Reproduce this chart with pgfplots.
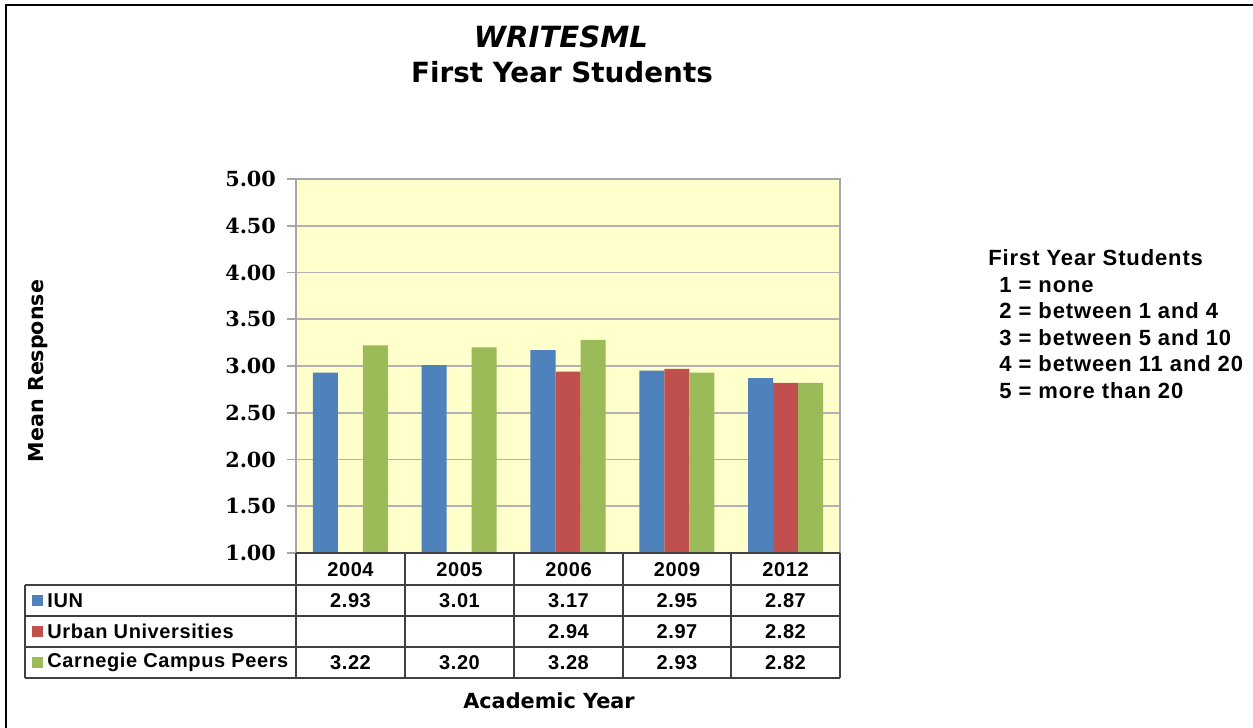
\documentclass[border=0pt]{standalone}
\usepackage{pgfplots}
\pgfplotsset{compat=1.18}
\usepackage{fontspec}
\setmainfont{Liberation Sans}
\newfontfamily\tabfont[LetterSpace=3]{Liberation Sans}
\newfontfamily\keyfont[LetterSpace=4]{Liberation Sans}
\newfontfamily\verd{DejaVu Sans}
\newfontfamily\serifb{DejaVu Serif}
\definecolor{cblue}{HTML}{4F81BD}
\definecolor{cred}{HTML}{C0504D}
\definecolor{cgreen}{HTML}{9BBB59}
\definecolor{bgy}{HTML}{FFFFCC}
\definecolor{tline}{HTML}{404040}
\begin{document}
\begin{tikzpicture}
\path[use as bounding box] (0,0) rectangle (626.5pt,-364pt);
\begin{axis}[
  at={(148pt,-276.5pt)}, anchor=south west,
  scale only axis, width=272pt, height=187pt,
  xmin=-0.5, xmax=4.5, ymin=1, ymax=5,
  ybar=0pt, bar width=12.5pt,
  xtick=\empty,
  ytick={1,1.5,2,2.5,3,3.5,4,4.5,5},
  ytick pos=left,
  yticklabel style={font=\serifb\bfseries\fontsize{10.4}{11}\selectfont, xshift=-2pt,
    /pgf/number format/fixed, /pgf/number format/fixed zerofill,
    /pgf/number format/precision=2, /pgf/number format/assume math mode=true},
  axis background/.style={fill=bgy},
  axis line style={draw=black!35, line width=0.8pt},
  ymajorgrids, grid style={draw=black!30, line width=0.8pt},
  tick style={draw=black!35, line width=0.8pt},
  tick align=outside, major tick length=4.5pt,
]
\addplot[fill=cblue, draw=none] coordinates {(0,2.93) (1,3.01) (2,3.17) (3,2.95) (4,2.87)};
\addplot[fill=cred, draw=none] coordinates {(2,2.94) (3,2.97) (4,2.82)};
\addplot[fill=cgreen, draw=none] coordinates {(0,3.22) (1,3.20) (2,3.28) (3,2.93) (4,2.82)};
\end{axis}
\begin{scope}[x=0.5pt,y=-0.5pt]
  % frame
  \draw[line width=1.2pt, black] (6,728) -- (6,5) -- (1253,5);
  % titles
  \node[anchor=base] at (561,47) {\verd\bfseries\itshape\fontsize{14.6}{16}\selectfont WRITESML};
  \node[anchor=base] at (562,82) {\verd\bfseries\fontsize{13.9}{16}\selectfont First Year Students};
  \node[rotate=90] at (38,371) {\verd\bfseries\fontsize{10.3}{12}\selectfont Mean Response};
  \node at (549,701) {\verd\bfseries\fontsize{10.4}{12}\selectfont Academic Year};
  % table
  \begin{scope}[line width=0.9pt]
    \draw[tline] (296,553) -- (840,553);
    \draw[tline] (25,585) -- (840,585);
    \draw[tline] (25,616) -- (840,616);
    \draw[tline] (25,647) -- (840,647);
    \draw[tline] (25,678) -- (840,678);
    \draw[tline] (25,585) -- (25,678);
    \foreach \xx in {296,405,514,623,731,840} {\draw[tline] (\xx,553) -- (\xx,678);}
  \end{scope}
  \fill[cblue] (32,595) rectangle (43,606);
  \fill[cred] (32,626) rectangle (43,637);
  \fill[cgreen] (32,657) rectangle (43,668);
  \begin{scope}[every node/.style={font=\tabfont\bfseries\fontsize{10}{11}\selectfont, inner sep=0pt}]
    \node[anchor=west] at (47,600.5) {IUN};
    \node[anchor=west] at (47,631.5) {Urban Universities};
    \node[anchor=west] at (47,662.5) {Carnegie Campus Peers};
    \foreach \cx/\yr/\a/\b/\c in {350.5/2004/2.93//3.22, 459.5/2005/3.01//3.20, 568.5/2006/3.17/2.94/3.28, 677/2009/2.95/2.97/2.93, 785.5/2012/2.87/2.82/2.82} {
      \node at (\cx,569.5) {\yr};
      \node at (\cx,600.5) {\a};
      \node at (\cx,631.5) {\b};
      \node at (\cx,662.5) {\c};
    }
  \end{scope}
  % key
  \begin{scope}[every node/.style={font=\keyfont\bfseries\fontsize{11}{12}\selectfont, inner sep=0pt, anchor=base west}]
    \node at (988,265) {First Year Students};
    \node at (999,292) {1 = none};
    \node at (999,318.5) {2 = between 1 and 4};
    \node at (999,345) {3 = between 5 and 10};
    \node at (999,371.5) {4 = between 11 and 20};
    \node at (999,398) {5 = more than 20};
  \end{scope}
\end{scope}
\end{tikzpicture}
\end{document}
